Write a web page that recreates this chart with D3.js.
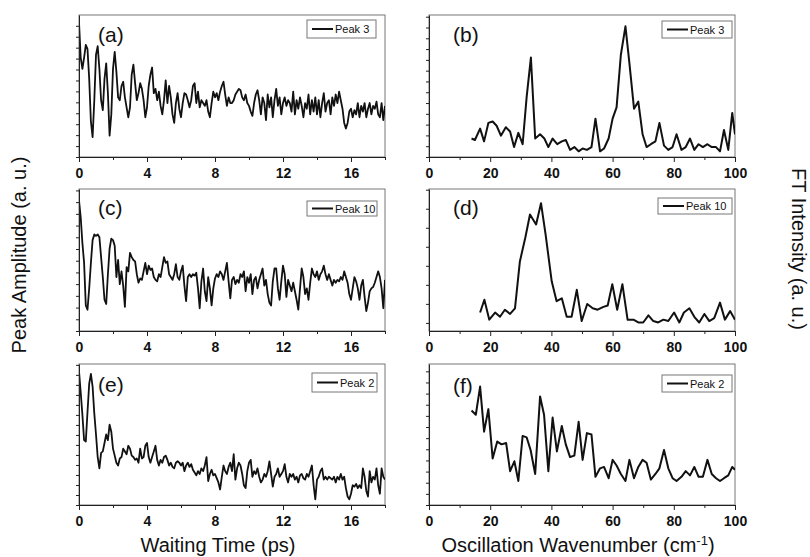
<!DOCTYPE html>
<meta charset="utf-8">
<html>
<head>
  <script src="https://d3js.org/d3.v7.min.js" charset="utf-8"></script>
  <style>
    body { margin: 0; background: #fff; }
    svg text { font-family: 'Liberation Sans', Arial, sans-serif; fill: #111; }
    .axis text { font-weight: bold; font-size: 14px; }
    .axis path, .axis line { stroke: #222; stroke-width: 1; }
    .frame { fill: none; stroke: #777; stroke-width: 1; }
    .trace { fill: none; stroke: #111; stroke-linejoin: round; }
    .legend-box { fill: #fff; stroke: #777; stroke-width: 1; }
    .title { font-size: 20px; }
  </style>
</head>
<body>
<script>
// ---- data (amplitudes in arbitrary units, 0-100 of panel height) ----
// time grid, 0.1 ps sampling
var waitTime = d3.range(0, 181).map(i => i / 10);

var peak3Time = [
  95,70,62,70,79,76,55,25,14,40,
  72,78,62,40,33,55,66,45,15,30,
  62,74,60,42,40,50,53,42,35,28,
  35,58,65,52,40,45,52,48,40,28,
  35,50,58,63,45,48,40,46,36,30,
  40,54,38,50,42,30,24,38,45,34,
  28,38,45,44,40,35,40,50,52,38,
  46,35,40,38,36,40,32,28,38,46,
  42,45,40,46,50,53,44,36,42,38,
  38,40,44,46,48,47,42,40,44,38,
  36,32,29,38,44,47,40,30,42,38,
  26,44,35,42,28,40,48,36,42,30,
  38,42,36,40,38,32,46,30,40,34,
  42,36,28,38,34,44,30,40,32,42,
  30,40,28,38,45,32,38,40,30,42,
  36,44,38,46,40,34,24,20,24,32,
  34,28,33,30,38,28,36,32,38,28,
  34,38,30,36,34,39,30,28,38,26,
  36];

var peak10Time = [
  92,80,62,48,18,15,30,48,64,68,
  67,68,66,52,38,22,19,40,58,65,
  64,60,38,50,33,42,32,17,45,42,
  55,52,50,49,40,34,37,36,42,48,
  40,46,43,44,38,36,35,40,38,45,
  52,48,49,40,38,36,40,47,38,36,
  42,46,32,21,38,40,38,40,39,41,
  30,16,35,44,28,21,38,30,18,30,
  37,40,38,42,40,36,42,48,35,23,
  36,38,33,36,34,40,38,42,28,38,
  34,40,26,36,38,30,36,40,44,32,
  36,26,20,18,35,44,44,30,22,35,
  46,40,24,36,32,28,34,28,22,15,
  30,44,38,26,30,22,34,44,40,38,
  42,36,40,42,46,40,36,40,36,32,
  36,34,36,35,38,36,42,38,34,26,
  22,30,38,35,30,22,32,36,24,14,
  20,28,30,31,34,38,42,38,30,16,
  36];

var peak2Time = [
  95,80,64,46,45,66,86,93,84,65,
  50,34,26,37,38,44,50,46,57,52,
  40,35,30,28,33,34,40,38,36,42,
  40,35,34,32,33,30,40,33,34,42,
  44,34,30,34,38,42,32,28,32,30,
  34,35,32,28,30,27,26,30,31,30,
  28,30,24,28,30,27,29,25,23,21,
  24,22,26,24,28,34,17,22,25,21,
  22,19,16,11,20,28,24,22,27,30,
  24,36,18,26,30,28,22,14,12,24,
  30,32,20,24,22,26,20,16,18,22,
  20,24,31,22,13,20,22,26,20,22,
  24,29,20,16,22,20,22,18,20,16,
  21,22,19,18,22,20,24,28,14,4,
  18,20,24,26,18,20,18,20,19,18,
  20,16,20,18,22,18,20,12,6,4,
  8,14,13,15,12,14,12,26,20,10,
  6,24,16,20,18,26,14,8,26,20,
  18];

// FT spectra (wavenumber in cm-1)
var wn3 = [13.9,15.0,16.7,18.0,19.4,20.8,22.1,23.5,25.1,26.5,27.8,29.2,30.6,31.9,33.3,34.7,36.3,37.7,39.0,40.4,
  41.9,43.4,44.7,46.1,47.5,48.9,50.2,51.6,53.1,54.4,55.9,57.2,58.7,60.0,61.3,62.7,64.2,65.5,67.0,68.4,
  69.8,71.1,72.5,74.0,75.3,76.8,78.2,79.6,80.9,82.5,83.9,85.3,86.7,88.1,89.5,91.0,92.4,93.8,95.1,96.4,
  97.8,99.1,100];
var peak3FT = [13,12,20,11,24,25,22,15,21,18,7,17,9,42,70,13,16,13,7,13,
  9,11,12,5,7,4,6,5,7,27,4,6,13,27,35,72,92,66,34,39,
  16,7,9,11,24,8,5,7,16,5,7,13,5,9,7,9,7,7,4,19,
  5,31,16];

var wn10 = [16.7,18.1,19.7,21.6,23.2,24.8,26.5,28.1,29.7,31.5,33.0,35.0,36.6,38.1,40.1,41.7,43.4,45.0,46.6,48.3,
  49.9,51.7,53.5,55.1,57.0,58.4,59.9,61.5,63.2,64.9,66.8,68.4,70.0,71.7,73.3,74.9,76.6,78.2,80.1,81.8,
  83.3,85.1,86.7,88.3,90.0,91.6,93.2,95.1,96.7,98.4,100];
var peak10FT = [13,22,8,13,10,15,12,16,49,66,82,75,90,68,35,21,23,10,10,29,
  7,19,16,15,17,18,33,15,33,8,8,6,6,11,7,6,8,7,13,6,
  13,16,10,6,12,7,9,20,8,14,8];

var wn2 = [13.9,15.3,16.7,18.0,19.4,20.8,22.3,23.7,25.2,26.5,27.9,29.2,30.6,31.9,33.2,34.7,36.3,37.6,39.0,40.4,
  41.8,43.4,44.7,46.1,47.5,48.9,50.2,51.6,53.1,54.4,55.9,57.2,58.7,60.0,61.3,62.7,64.2,65.5,67.0,68.4,
  69.8,71.1,72.5,74.0,75.3,76.8,78.2,79.6,80.9,82.5,83.9,85.3,86.7,88.1,89.5,91.0,92.4,93.8,95.1,96.4,
  97.8,99.1,100];
var peak2FT = [67,64,84,52,68,33,45,43,44,24,31,17,49,48,39,22,77,64,24,62,
  38,56,43,34,35,59,32,51,50,20,26,27,19,32,28,22,17,32,19,27,
  32,30,18,22,26,39,26,19,17,20,24,21,27,20,20,32,22,19,17,19,
  21,27,25];

var timeTicks = [0, 4, 8, 12, 16];
var timeMinor = [2, 6, 10, 14, 18];
var wnTicks = [0, 20, 40, 60, 80, 100];
var wnMinor = [10, 30, 50, 70, 90];
var letters = ["(a)", "(b)", "(c)", "(d)", "(e)", "(f)"];
var legendNames = ["Peak 3", "Peak 3", "Peak 10", "Peak 10", "Peak 2", "Peak 2"];

// ---- layout ----
var W = 810, H = 557;
var cols = [[79, 385], [429, 735]];
var rows = [[15, 157], [189, 331], [364, 505]];

var panels = [
  { col: 0, row: 0, xs: waitTime, ys: peak3Time, yStep: 7.7, yOff: 0, lw: 1.8,
    leg: [307, 20, 69, 18], lab: [98, 42] },
  { col: 1, row: 0, xs: wn3, ys: peak3FT, yStep: 7.6, yOff: 0, lw: 2,
    leg: [662, 21, 70, 17], lab: [453, 42] },
  { col: 0, row: 1, xs: waitTime, ys: peak10Time, yStep: 8.25, yOff: 0, lw: 1.8,
    leg: [307, 201, 70, 15], lab: [98, 215] },
  { col: 1, row: 1, xs: wn10, ys: peak10FT, yStep: 13.4, yOff: 5.7, lw: 2,
    leg: [658, 198, 74, 16], lab: [453, 215] },
  { col: 0, row: 2, xs: waitTime, ys: peak2Time, yStep: 7.1, yOff: 0, lw: 1.8,
    leg: [312, 373, 65, 19], lab: [98, 392] },
  { col: 1, row: 2, xs: wn2, ys: peak2FT, yStep: 7.9, yOff: 0, lw: 2,
    leg: [662, 375, 70, 17], lab: [453, 393] }
];

var svg = d3.select("body").append("svg")
  .attr("width", W).attr("height", H);

panels.forEach((p, i) => {
  var x0 = cols[p.col][0], x1 = cols[p.col][1];
  var y0 = rows[p.row][0], y1 = rows[p.row][1];
  var isTime = p.col === 0;

  var x = d3.scaleLinear().domain(isTime ? [0, 18] : [0, 100]).range([x0, x1]);
  var y = d3.scaleLinear().domain([0, 100]).range([y1, y0]);

  var g = svg.append("g");

  g.append("clipPath").attr("id", "clip" + i)
    .append("rect").attr("x", x0).attr("y", y0)
    .attr("width", x1 - x0).attr("height", y1 - y0);

  g.append("rect").attr("class", "frame")
    .attr("x", x0).attr("y", y0)
    .attr("width", x1 - x0).attr("height", y1 - y0);

  // trace
  var line = d3.line().x(d => x(d[0])).y(d => y(d[1]));
  g.append("path")
    .datum(p.xs.map((v, k) => [v, p.ys[k]]))
    .attr("class", "trace")
    .attr("stroke-width", p.lw)
    .attr("clip-path", "url(#clip" + i + ")")
    .attr("d", line);

  // x axis, major + minor ticks
  g.append("g").attr("class", "axis")
    .attr("transform", `translate(0, ${y1})`)
    .call(d3.axisBottom(x).tickValues(isTime ? timeMinor : wnMinor)
      .tickSize(3).tickSizeOuter(0).tickFormat(""));
  g.append("g").attr("class", "axis")
    .attr("transform", `translate(0, ${y1})`)
    .call(d3.axisBottom(x).tickValues(isTime ? timeTicks : wnTicks)
      .tickSize(5).tickSizeOuter(0).tickPadding(6).tickFormat(d3.format("d")));

  // y axis, unlabeled ticks
  g.append("g").attr("class", "axis")
    .attr("transform", `translate(${x0}, 0)`)
    .call(d3.axisLeft(y).tickValues(d3.range(p.yOff, 100.01, p.yStep))
      .tickSize(3).tickSizeOuter(0).tickFormat(""));

  // panel letter
  g.append("text").attr("x", p.lab[0]).attr("y", p.lab[1])
    .style("font-size", "21px").text(letters[i]);

  // legend
  var L = p.leg;
  g.append("rect").attr("class", "legend-box")
    .attr("x", L[0]).attr("y", L[1]).attr("width", L[2]).attr("height", L[3]);
  g.append("line")
    .attr("x1", L[0] + 5).attr("x2", L[0] + 26)
    .attr("y1", L[1] + L[3] / 2).attr("y2", L[1] + L[3] / 2)
    .attr("stroke", "#111").attr("stroke-width", 2);
  g.append("text")
    .attr("x", L[0] + 28).attr("y", L[1] + L[3] / 2 + 4)
    .style("font-size", "11px").text(legendNames[i]);
});

// axis titles
svg.append("text").attr("class", "title")
  .attr("x", 218).attr("y", 552).attr("text-anchor", "middle")
  .text("Waiting Time (ps)");

var wt = svg.append("text").attr("class", "title")
  .attr("x", 578).attr("y", 552).attr("text-anchor", "middle");
wt.append("tspan").text("Oscillation Wavenumber (cm");
wt.append("tspan").attr("dy", -7).style("font-size", "13px").text("-1");
wt.append("tspan").attr("dy", 7).text(")");

svg.append("text").attr("class", "title")
  .attr("transform", "translate(26, 255) rotate(-90)")
  .attr("text-anchor", "middle")
  .text("Peak Amplitude (a. u.)");

svg.append("text").attr("class", "title")
  .attr("transform", "translate(792, 249) rotate(90)")
  .attr("text-anchor", "middle")
  .text("FT Intensity (a. u.)");
</script>
</body>
</html>
